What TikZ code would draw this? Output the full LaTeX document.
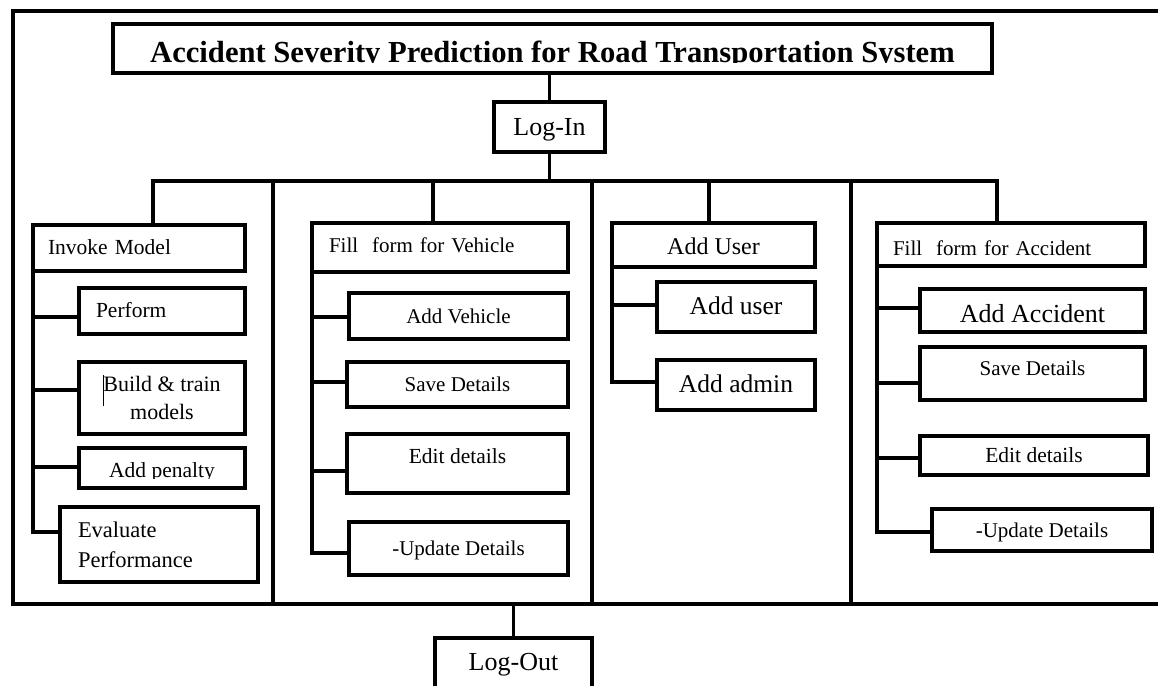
\documentclass[tikz,border=0pt]{standalone}
\usepackage{fontspec}
\setmainfont{Liberation Serif}
\newcommand\tx[2]{\raisebox{#1}[0.7em][0.2em]{#2}}
\begin{document}
\begin{tikzpicture}[x=1pt,y=-1pt,line width=3.2pt,
  box/.style={draw,line width=3.2pt,inner sep=2pt,outer sep=0pt,align=center},
  lbox/.style={box,align=left},
  conn/.style={draw,line width=3.2pt},
  fA/.style={font=\fontsize{21}{26}\selectfont},
  fB/.style={font=\fontsize{21.5}{26}\selectfont},
  fC/.style={font=\fontsize{24}{29}\selectfont},
  fD/.style={font=\fontsize{25.5}{30}\selectfont},
  fE/.style={font=\fontsize{26}{31}\selectfont}]
\useasboundingbox (0,0) rectangle (1158,685);
\clip (0,0) rectangle (1158,685);
\fill[white] (0,0) rectangle (1158,685);

% outer frame
\coordinate (ftl) at (13,11);
\coordinate (fbl) at (13,604);
\coordinate (ftr) at (1175,11);
\coordinate (fbr) at (1175,604);
\draw[conn] (ftr) -- (ftl) -- (fbl) -- (fbr);

% title and log-in
\node[box,minimum width=879,minimum height=49,font=\bfseries\fontsize{30.6}{36}\selectfont] (title) at (552.5,48.5)
  {\tx{-5.9pt}{Accident Severity Prediction for Road Transportation System}};
\fill[white] (115.5,62.7) rectangle (989.5,71.3);
\node[box,fE,minimum width=111,minimum height=50] (login) at (549.5,127) {\tx{-1.5pt}{Log-In}};
\node[box,fE,minimum width=157,minimum height=64] (logout) at (513.5,670) {\tx{6.5pt}{Log-Out}};

% column 1
\node[lbox,fB,text width=182,inner xsep=15,minimum height=46] (im) at (139,248) {\tx{-1.6pt}{Invoke Model}};
\node[lbox,fB,text width=132,inner xsep=17,minimum height=46] (pf) at (162,311) {\tx{-1.6pt}{Perform}};
\node[box,font=\fontsize{22}{28}\selectfont,minimum width=166,minimum height=72] (bt) at (162,398) {Build \& train\\models};
\node[box,fB,minimum width=166,minimum height=40] (ap) at (162,468) {\tx{-4.6pt}{Add penalty}};
\fill[white] (81,478.6) rectangle (243.4,486.3);
\node[lbox,font=\fontsize{22.5}{30}\selectfont,text width=162,inner xsep=18,minimum height=75] (evp) at (159,544.5) {Evaluate\\Performance};
\draw[line width=0.8pt] (103,375) -- (103,406);

% column 2
\node[lbox,fA,text width=222,inner xsep=17,minimum height=49] (fv) at (440,247.5) {\tx{0pt}{Fill\ \ form for Vehicle}};
\node[box,fA,minimum width=219,minimum height=46] (av) at (458.5,316) {\tx{-1.75pt}{Add Vehicle}};
\node[box,fA,minimum width=221,minimum height=45] (sv) at (457.5,384.5) {\tx{-1.25pt}{Save Details}};
\node[box,fB,minimum width=221,minimum height=59] (edv) at (457.5,463.5) {\tx{5.75pt}{Edit details}};
\node[box,fA,minimum width=219,minimum height=53] (uv) at (458.5,548.5) {\tx{-1.25pt}{-Update Details}};

% column 3
\node[box,fC,minimum width=203,minimum height=44] (au) at (713.5,245) {\tx{-3pt}{Add User}};
\node[box,fD,minimum width=158,minimum height=50] (u1) at (736,307) {\tx{-1.6pt}{Add user}};
\node[box,fD,minimum width=158,minimum height=50] (ad) at (736,385) {\tx{-1.6pt}{Add admin}};

% column 4
\node[lbox,fA,text width=236,inner xsep=16,minimum height=43] (fa) at (1011,244.5) {\tx{-5.25pt}{Fill\ \ form for Accident}};
\node[box,fE,minimum width=225,minimum height=43] (aa) at (1032.5,310.5) {\tx{-5pt}{Add Accident}};
\node[box,fA,minimum width=225,minimum height=53] (sa) at (1032.5,373.5) {\tx{3.75pt}{Save Details}};
\node[box,fB,minimum width=228,minimum height=39] (eda) at (1034,455.5) {\tx{-2pt}{Edit details}};
\node[box,fA,minimum width=220,minimum height=42] (ua) at (1042,530) {\tx{-1.75pt}{-Update Details}};

% main connectors
\coordinate (barL) at (153,181);
\coordinate (barR) at (997,181);
\coordinate (dropV) at (433,181);
\coordinate (dropU) at (709,181);
\draw[conn] (login.north |- title.south) -- (login.north);
\draw[conn] (login.south) -- (login.south |- barL);
\draw[conn] (barL |- im.north) -- (barL) -- (barR) -- (barR |- fa.north);
\draw[conn] (dropV) -- (dropV |- fv.north);
\draw[conn] (dropU) -- (dropU |- au.north);
\foreach \x/\n in {273/a,592/b,851/c}{
  \coordinate (dt\n) at (\x,181);
  \draw[conn] (dt\n) -- (dt\n |- fbl);
}
\draw[conn] (logout.north |- fbl) -- (logout.north);

% column 1 tree
\draw[conn] (im.south west) -- (im.south west |- 0,532) -- (evp.west |- 0,532);
\draw[conn] (im.south west |- 0,317) -- (pf.west |- 0,317);
\draw[conn] (im.south west |- 0,390) -- (bt.west |- 0,390);
\draw[conn] (im.south west |- 0,467) -- (ap.west |- 0,467);

% column 2 tree
\draw[conn] (fv.south west) -- (fv.south west |- 0,553) -- (uv.west |- 0,553);
\draw[conn] (fv.south west |- 0,317) -- (av.west |- 0,317);
\draw[conn] (fv.south west |- 0,382) -- (sv.west |- 0,382);
\draw[conn] (fv.south west |- 0,471) -- (edv.west |- 0,471);

% column 3 tree
\draw[conn] (au.south west) -- (au.south west |- 0,382) -- (ad.west |- 0,382);
\draw[conn] (au.south west |- 0,305) -- (u1.west |- 0,305);

% column 4 tree
\draw[conn] (fa.south west) -- (fa.south west |- 0,532) -- (ua.west |- 0,532);
\draw[conn] (fa.south west |- 0,308) -- (aa.west |- 0,308);
\draw[conn] (fa.south west |- 0,383) -- (sa.west |- 0,383);
\draw[conn] (fa.south west |- 0,458) -- (eda.west |- 0,458);
\end{tikzpicture}
\end{document}
